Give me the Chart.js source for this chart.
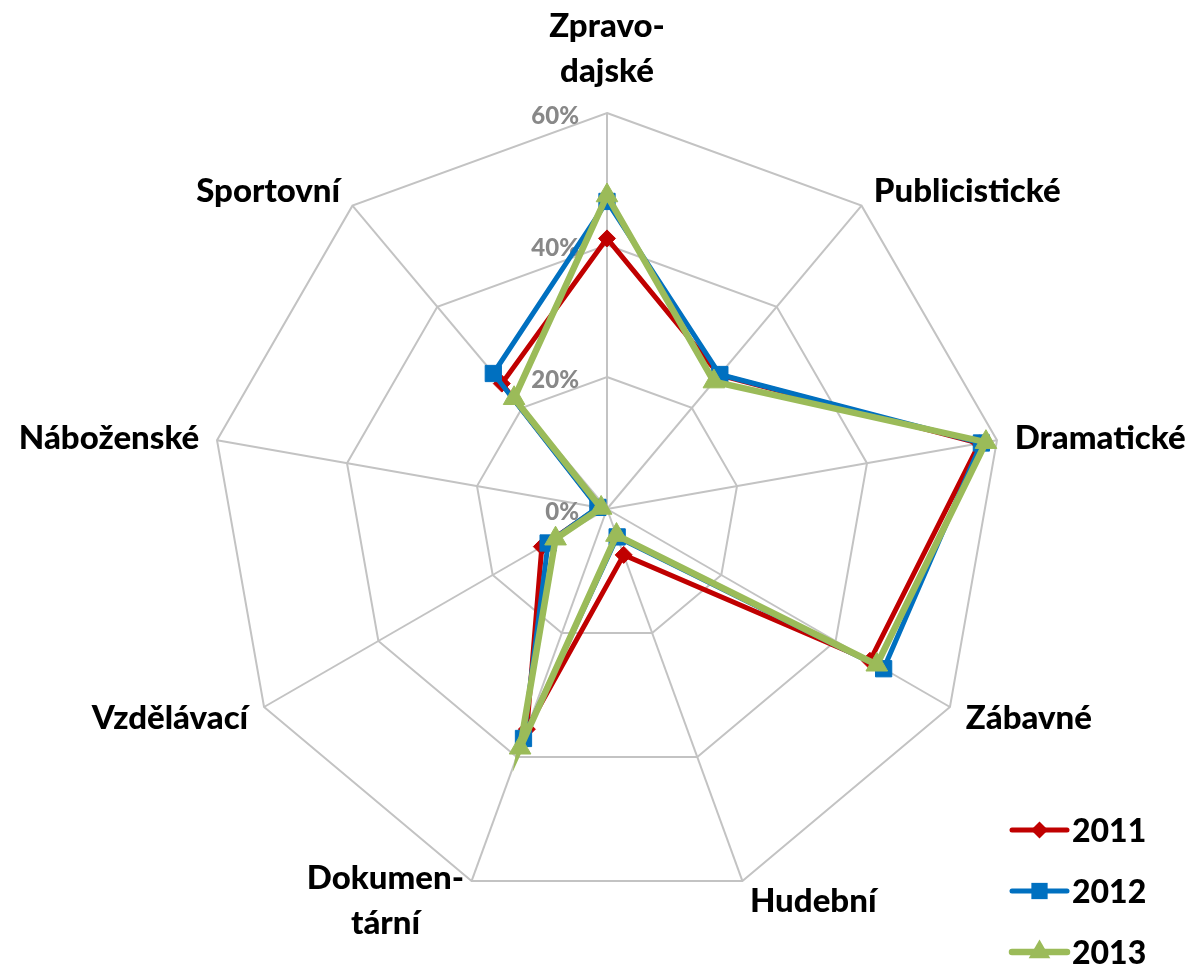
<!DOCTYPE html>
<html>
<head>
<meta charset="utf-8">
<script src="https://cdn.jsdelivr.net/npm/chart.js"></script>
<style>
  html, body { margin: 0; padding: 0; background: #ffffff; }
  #wrap { position: relative; width: 1196px; height: 966px; }
</style>
</head>
<body>
<div id="wrap"><canvas id="chart"></canvas></div>
<script>
// ---- data ----
const categories = [['Zpravo-', 'dajské'], 'Publicistické', 'Dramatické', 'Zábavné', 'Hudební', ['Dokumen-', 'tární'], 'Vzdělávací', 'Náboženské', 'Sportovní'];
const seriesNames = ['2011', '2012', '2013'];
const values2011 = [41.0, 26.5, 57.3, 46.0, 7.4, 35.5, 11.4, 1.3, 24.8];
const values2012 = [46.6, 26.6, 57.6, 48.4, 4.5, 37.0, 10.3, 1.4, 26.8];
const values2013 = [47.5, 25.2, 58.3, 47.2, 4.2, 38.5, 9.0, 0.9, 21.9];
const tickValues = [0, 20, 40, 60];

const FONT = 'Lato, "Open Sans", "Liberation Sans", sans-serif';
const WEIGHT = '900';

function drawMarker(ctx, style, x, y, radius) {
  ctx.beginPath();
  if (style === 'rectRot') {
    ctx.moveTo(x, y - radius);
    ctx.lineTo(x + radius, y);
    ctx.lineTo(x, y + radius);
    ctx.lineTo(x - radius, y);
  } else if (style === 'rect') {
    const s = Math.SQRT1_2 * radius;
    ctx.rect(x - s, y - s, 2 * s, 2 * s);
  } else if (style === 'triangle') {
    let a = 0;
    ctx.moveTo(x + Math.sin(a) * radius, y - Math.cos(a) * radius);
    a += 2 * Math.PI / 3;
    ctx.lineTo(x + Math.sin(a) * radius, y - Math.cos(a) * radius);
    a += 2 * Math.PI / 3;
    ctx.lineTo(x + Math.sin(a) * radius, y - Math.cos(a) * radius);
  } else {
    ctx.arc(x, y, radius, 0, Math.PI * 2);
  }
  ctx.closePath();
  ctx.fill();
}

const excelText = {
  id: 'excelText',
  beforeDatasetsDraw(chart) {
    const r = chart.scales.r;
    const ctx = chart.ctx;
    ctx.save();
    ctx.font = WEIGHT + ' 24px ' + FONT;
    ctx.fillStyle = '#888888';
    ctx.textAlign = 'right';
    ctx.textBaseline = 'alphabetic';
    r.ticks.forEach(t => {
      const d = r.getDistanceFromCenterForValue(t.value);
      const lbl = (t.label !== undefined && t.label !== '') ? t.label : (t.value + '%');
      ctx.fillText(lbl, r.xCenter - 28, r.yCenter - d + 2 + 0.36 * 24);
    });
    ctx.restore();
  },
  afterDraw(chart) {
    const r = chart.scales.r;
    const ctx = chart.ctx;
    const R = r.drawingArea;
    const size = 33, L = 45, cap = 0.36 * size;
    ctx.save();
    ctx.font = WEIGHT + ' ' + size + 'px ' + FONT;
    ctx.fillStyle = '#000000';
    ctx.textAlign = 'center';
    ctx.textBaseline = 'alphabetic';
    chart.data.labels.forEach((lab, i) => {
      const lines = Array.isArray(lab) ? lab : [lab];
      const p = r.getPointPosition(i, R);
      const ang = r.getIndexAngle(i);
      const s = Math.sin(ang), c = Math.cos(ang);
      const bw = Math.max(...lines.map(t => ctx.measureText(t).width));
      const n = lines.length;
      if (Math.abs(s) < 0.05 && c > 0) {
        const lastBase = p.y - 31;
        lines.forEach((t, k) => ctx.fillText(t, p.x, lastBase - (n - 1 - k) * L));
        return;
      }
      const gap = 16 * Math.abs(s) + 2;
      const cx = s > 0 ? p.x + gap + bw / 2 : p.x - gap - bw / 2;
      const cy = p.y - 20 * c;
      lines.forEach((t, k) => ctx.fillText(t, cx, cy + cap + (k - (n - 1) / 2) * L));
    });

    // legend (bottom right)
    ctx.font = WEIGHT + ' 32px ' + FONT;
    const lx0 = chart.width - 184, lx1 = chart.width - 129, tx = chart.width - 124;
    const ly0 = chart.height - 136, step = 61;
    ctx.textAlign = 'left';
    chart.data.datasets.forEach((ds, i) => {
      const y = ly0 + i * step;
      ctx.strokeStyle = ds.borderColor;
      ctx.lineWidth = ds.legendLineWidth;
      ctx.lineCap = 'round';
      ctx.beginPath();
      ctx.moveTo(lx0, y);
      ctx.lineTo(lx1, y);
      ctx.stroke();
      ctx.fillStyle = ds.pointBackgroundColor;
      drawMarker(ctx, ds.pointStyle, (lx0 + lx1) / 2, y, ds.pointRadius);
      ctx.fillStyle = '#000000';
      ctx.fillText(ds.label, tx, y + 0.36 * 32);
    });
    ctx.restore();
  }
};

const mk = (label, data, color, style, radius, width, order) => ({
  label, data,
  borderColor: color, backgroundColor: color,
  pointBackgroundColor: color, pointBorderColor: color,
  pointBorderWidth: 1, pointStyle: style, pointRadius: radius, pointHoverRadius: radius,
  borderWidth: width, legendLineWidth: width, fill: false, tension: 0, order, clip: false
});

new Chart(document.getElementById('chart'), {
  type: 'radar',
  data: {
    labels: categories,
    datasets: [
      mk(seriesNames[0], values2011, '#C00000', 'rectRot', 8.5, 5, 3),
      mk(seriesNames[1], values2012, '#0070C0', 'rect', 11.5, 5, 2),
      mk(seriesNames[2], values2013, '#9BBB59', 'triangle', 12.5, 6.5, 1)
    ]
  },
  options: {
    responsive: true,
    maintainAspectRatio: false,
    animation: false,
    events: [],
    layout: { padding: { left: 211, right: 193, top: 113, bottom: 61 } },
    plugins: { legend: { display: false }, tooltip: { enabled: false } },
    scales: {
      r: {
        min: tickValues[0],
        max: tickValues[tickValues.length - 1],
        ticks: { stepSize: tickValues[1] - tickValues[0], display: false, callback: v => v + '%' },
        pointLabels: { display: false },
        grid: { color: '#c3c3c3', lineWidth: 2, circular: false },
        angleLines: { color: '#c3c3c3', lineWidth: 2 }
      }
    }
  },
  plugins: [excelText]
});
</script>
</body>
</html>
